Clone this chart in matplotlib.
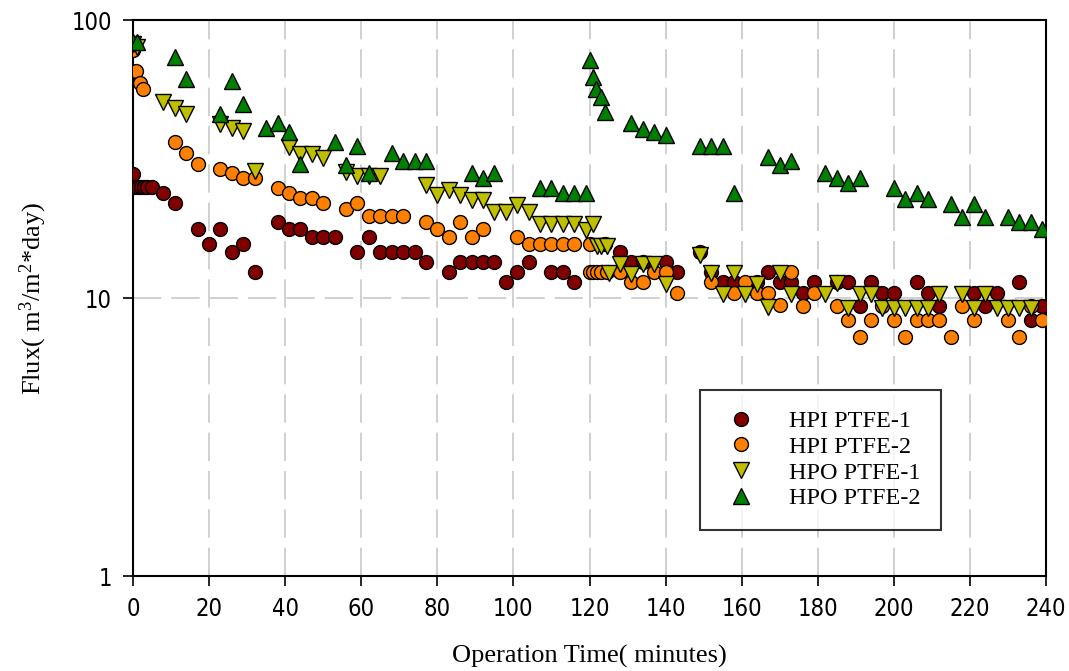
import matplotlib
matplotlib.use('Agg')
import matplotlib.pyplot as plt
from matplotlib import font_manager
from matplotlib.ticker import FixedLocator, FixedFormatter, NullLocator

# ~~~~~~~~~~~~~~~~~~~~~~~~~~ data ~~~~~~~~~~~~~~~~~~~~~~~~~~
hpi1_t = [0, 0.3, 1.2, 2, 2.9, 3.8, 5, 8, 11, 17, 20, 23, 26, 29, 32, 38, 41, 44, 47, 50, 53,
          59, 62, 65, 68, 71, 74, 77, 83, 86, 89, 92, 95, 98, 101, 104, 110, 113, 116,
          124, 128, 131, 134, 140, 143, 149, 152, 155, 158, 164, 167, 170, 173, 176, 179,
          185, 188, 191, 194, 197, 200, 206, 209, 212, 221, 224, 227, 233, 236, 239]
hpi1_flux = [28, 25, 25, 25, 25, 25, 25, 23.9, 21.9, 17.7, 15.6, 17.7, 14.6, 15.6, 12.4, 18.7,
             17.7, 17.7, 16.6, 16.6, 16.6, 14.6, 16.6, 14.6, 14.6, 14.6, 14.6, 13.5, 12.4,
             13.5, 13.5, 13.5, 13.5, 11.4, 12.4, 13.5, 12.4, 12.4, 11.4,
             15.6, 14.6, 13.5, 13.5, 13.5, 12.4, 14.6, 12.4, 11.4, 11.4, 11.4, 12.4, 11.4,
             11.4, 10.4, 11.4, 11.4, 11.4, 9.35, 11.4, 10.4, 10.4, 11.4, 10.4, 9.35, 10.4,
             9.35, 10.4, 11.4, 8.33, 9.35]

hpi2_t = [0, 0.8, 1.8, 2.7, 11, 14, 17, 23, 26, 29, 32, 38, 41, 44, 47, 50, 56, 59, 62, 65,
          68, 71, 77, 80, 83, 86, 89, 92, 101, 104, 107, 110, 113, 116, 120,
          120, 121, 122, 123, 124.5, 128, 131, 134, 137, 140, 143, 152, 158, 161, 164, 167,
          170, 173, 176, 179, 185, 188, 191, 194, 197, 200, 203, 206, 209, 212, 215, 218,
          221, 230, 233, 236, 239]
hpi2_flux = [78, 65.6, 59.5, 56.3, 36.3, 33.1, 30.3, 29.1, 28.1, 27.1, 27.1, 24.9, 23.9, 22.8,
             22.8, 21.9, 20.9, 21.9, 19.8, 19.8, 19.8, 19.8, 18.7, 17.7, 16.6, 18.7, 16.6,
             17.7, 16.6, 15.6, 15.6, 15.6, 15.6, 15.6, 15.6,
             12.4, 12.4, 12.4, 12.4, 12.4, 12.4, 11.4, 11.4, 12.4, 12.4, 10.4, 11.4, 10.4,
             11.4, 10.4, 10.4, 9.44, 12.4, 9.35, 10.4, 9.35, 8.33, 7.26, 8.33, 9.35, 8.33,
             7.26, 8.33, 8.33, 8.33, 7.26, 9.35, 8.33, 8.33, 7.26, 9.35, 8.33]

hpo1_t = [0, 1, 8, 11, 14, 23, 26, 29, 32, 41, 44, 47, 50, 56, 59, 62, 65, 77, 80, 83, 86,
          89, 92, 95, 98, 101, 104, 107, 110, 113, 116, 119, 121, 122, 123, 124.5, 125, 128,
          131, 134, 137, 140, 149, 152, 155, 158, 161, 164, 167, 170, 173, 182, 185, 188,
          191, 194, 197, 200, 203, 206, 209, 212, 218, 221, 224, 227, 230, 233, 236]
hpo1_flux = [82, 80, 50.9, 48.1, 45.9, 42.3, 40.8, 39.9, 28.7, 35, 33, 33, 31.8, 28.5, 27.5,
             27.5, 27.5, 25.6, 23.5, 24.5, 23.5, 22.5, 22.5, 20.4, 20.4, 21.6, 20.4, 18.5,
             18.5, 18.5, 18.5, 17.5, 18.5, 15.4, 15.4, 15.4, 12.3, 13.3, 12.2, 13.3, 13.3,
             11.2, 14.3, 12.3, 10.3, 12.3, 10.3, 11.2, 9.27, 12.3, 10.3, 10.3, 11.3, 9.2,
             10.3, 10.3, 9.2, 9.2, 9.2, 9.2, 9.2, 10.3, 10.3, 9.2, 10.3, 9.2, 9.2, 9.2, 9.2]

hpo2_t = [0, 1, 11, 14, 23, 26, 29, 35, 38, 41, 44, 53, 56, 59, 62, 68, 71, 74, 77, 89, 92,
          95, 107, 110, 113, 116, 119, 120, 121, 121.7, 123, 124, 131, 134, 137, 140, 149,
          152, 155, 158, 167, 170, 173, 182, 185, 188, 191, 200, 203, 206, 209, 215, 218,
          221, 224, 230, 233, 236, 239]
hpo2_flux = [83, 83, 73.8, 61.4, 45.8, 60.3, 49.9, 40.8, 42.7, 39.7, 30.3, 36.3, 30.1, 35.3,
             28.1, 33.3, 31.2, 31.2, 31.2, 28.1, 27, 28.1, 24.8, 24.8, 23.9, 23.9, 23.9, 71.8,
             62.5, 56.3, 53, 46.8, 42.5, 40.6, 39.5, 38.6, 35.3, 35.3, 35.3, 23.8, 32.2, 30.1,
             31.2, 28.1, 27, 26, 27, 24.8, 22.7, 23.8, 22.7, 21.7, 19.6, 21.7, 19.6, 19.6,
             18.7, 18.7, 17.7]

series_names = ['HPI PTFE-1', 'HPI PTFE-2', 'HPO PTFE-1', 'HPO PTFE-2']
x_ticks = list(range(0, 241, 20))
y_ticks = [1, 10, 100]
y_tick_labels = ['1', '10', '100']

# ~~~~~~~~~~~~~~~~~~~~~~~~~~~~~~~~~~ plot ~~~~~~~~~~~~~~~~~~~~~~~~~~~~~~~~~~~~~~
plt.rcParams['mathtext.fontset'] = 'custom'
plt.rcParams['mathtext.rm'] = 'Liberation Serif'
plt.rcParams['mathtext.it'] = 'Liberation Serif:italic'
serif = ['Liberation Serif', 'DejaVu Serif']

# tick labels in the original are a condensed sans face, pick one if there is one
installed = {f.name for f in font_manager.fontManager.ttflist}
tick_font = dict(family='Liberation Sans')
if 'Liberation Sans Narrow' in installed:
    tick_font = dict(family='Liberation Sans Narrow')
elif any(f.name == 'DejaVu Sans' and f.stretch == 'condensed' for f in font_manager.fontManager.ttflist):
    tick_font = dict(family='DejaVu Sans', stretch='condensed')

fig = plt.figure(figsize=(10.69, 6.71), dpi=100)
ax = fig.add_axes([133 / 1069, 1 - 576 / 671, 913 / 1069, 556 / 671])

styles = [('o', '#800000', 10), ('o', '#ff8000', 10), ('v', '#bfbf00', 11), ('^', '#008000', 11)]
data = [(hpi1_t, hpi1_flux), (hpi2_t, hpi2_flux), (hpo1_t, hpo1_flux), (hpo2_t, hpo2_flux)]
for (t, f), (m, c, ms), name in zip(data, styles, series_names):
    ax.plot(t, f, linestyle='none', marker=m, markersize=ms, markerfacecolor=c,
            markeredgecolor='black', markeredgewidth=1.0, label=name, zorder=3)

ax.set_yscale('log')
ax.set_xlim(0, 240)
ax.set_ylim(1, 100)
ax.xaxis.set_major_locator(FixedLocator(x_ticks))
ax.yaxis.set_major_locator(FixedLocator(y_ticks))
ax.yaxis.set_major_formatter(FixedFormatter(y_tick_labels))
ax.yaxis.set_minor_locator(NullLocator())
ax.tick_params(axis='both', direction='out', length=7, width=1.2, labelsize=17, pad=8)
for lab in ax.get_xticklabels() + ax.get_yticklabels():
    lab.set(**tick_font)

ax.grid(True, axis='both', which='major', color='#c8c8c8', linestyle=(0, (17, 6)), linewidth=1.2, zorder=0)
for sp in ax.spines.values():
    sp.set_linewidth(1.5)

ax.set_xlabel('Operation Time( minutes)', fontsize=19, family=serif, labelpad=17)
ax.set_ylabel('Flux( m$^3$/m$^2$*day)', fontsize=19, family=serif, labelpad=16)

leg = ax.legend(loc='lower left', bbox_to_anchor=(0.621, 0.083), frameon=True, fancybox=False,
                edgecolor='black', prop={'family': serif, 'size': 17.5}, borderpad=0.85,
                labelspacing=0.15, handletextpad=1.1, borderaxespad=0, handlelength=1.7)
leg.get_frame().set_linewidth(1.5)

fig.savefig('out.png', dpi=100)
